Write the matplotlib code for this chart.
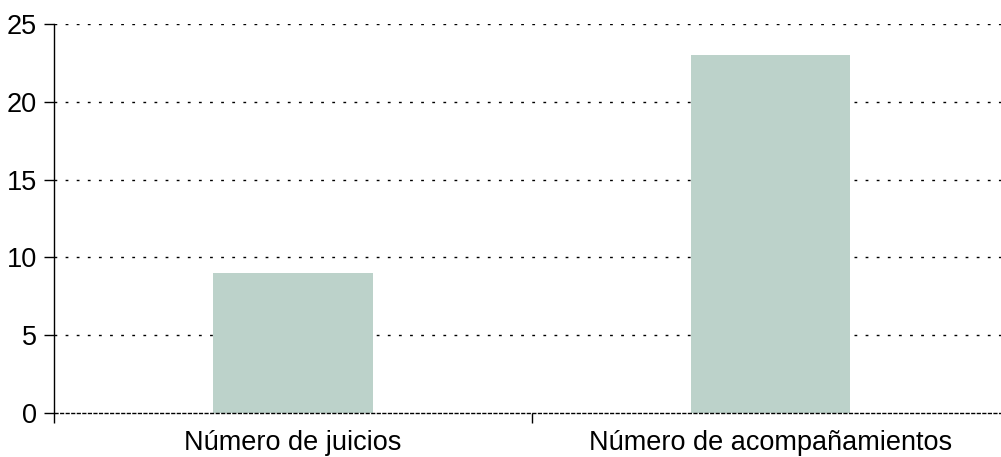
import matplotlib.pyplot as plt

# datos
categorias = ["Número de juicios", "Número de acompañamientos"]
valores = [9, 23]
yticks = [0, 5, 10, 15, 20, 25]

plt.rcParams['font.family'] = ['Liberation Sans', 'DejaVu Sans']

fig = plt.figure(figsize=(10.01, 4.57), dpi=100)
ax = fig.add_axes([54/1001, 44/457, 947/1001, 389/457])

pos = list(range(len(categorias)))
ax.bar(pos, valores, width=0.334, color="#bcd2ca", zorder=2)

ax.set_xlim(-0.5, 1.483)
ax.set_ylim(0, 25)
ax.set_yticks(yticks)
ax.set_xticks(pos)
ax.set_xticklabels(categorias)
ax.set_xticks([-0.5, 0.5], minor=True)

# rejilla punteada
for v in yticks[1:]:
    ax.axhline(v, color="black", lw=1, linestyle=(0, (2, 6)), zorder=1)
ax.axhline(0, color="black", lw=1, linestyle=(0, (3, 1)), zorder=3, clip_on=False)

for s in ["top", "right", "bottom"]:
    ax.spines[s].set_visible(False)
ax.spines["left"].set_linewidth(1)

ax.tick_params(axis="y", length=7.2, width=1, pad=5, labelsize=19.5)
ax.tick_params(axis="x", which="major", length=0, pad=12, labelsize=19.5)
ax.tick_params(axis="x", which="minor", length=7.2, width=1)

fig.savefig("out.png", dpi=100)
